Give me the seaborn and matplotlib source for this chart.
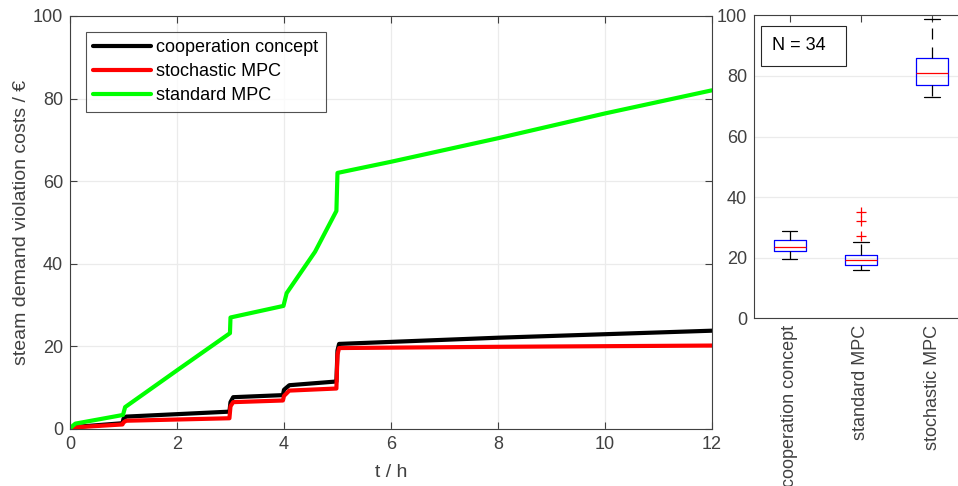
import matplotlib
matplotlib.use("Agg")
import matplotlib.pyplot as plt
from matplotlib.patches import Rectangle
import seaborn as sns
import pandas as pd

# cumulative steam demand violation costs over the horizon
t_coop = [0.0, 0.1, 0.98, 1.0, 1.05, 2.98, 3.0, 3.05, 3.98, 4.0, 4.1, 4.98, 5.0, 5.03, 8.0, 12.0]
cost_coop = [0.0, 0.5, 1.4, 2.5, 3.0, 4.2, 6.5, 7.7, 8.2, 9.5, 10.6, 11.5, 19.0, 20.6, 22.1, 23.8]

t_stoch = [0.0, 0.1, 0.98, 1.0, 1.05, 2.98, 3.0, 3.05, 3.98, 4.0, 4.1, 4.98, 5.0, 5.03, 8.0, 12.0]
cost_stoch = [0.0, 0.4, 1.1, 1.6, 2.0, 2.6, 5.5, 6.5, 6.9, 8.0, 9.3, 9.8, 18.0, 19.6, 19.9, 20.2]

t_std = [0.0, 0.1, 0.99, 1.03, 2.0, 2.99, 3.0, 3.99, 4.05, 4.58, 4.98, 5.0, 6.0, 8.0, 10.0, 12.0]
cost_std = [0.2, 1.3, 3.4, 5.3, 14.2, 23.2, 27.0, 29.8, 32.9, 42.9, 52.8, 62.0, 64.7, 70.4, 76.4, 82.0]

series_names = ["cooperation concept", "stochastic MPC", "standard MPC"]
series_colors = ["#000000", "#ff0000", "#00ff00"]

# total cost distribution over the scenarios
box_labels = ["cooperation concept", "standard MPC", "stochastic MPC"]
box_q1 = [22.3, 17.5, 76.9]
box_med = [23.7, 19.1, 80.8]
box_q3 = [25.7, 20.8, 86.0]
box_lo = [19.5, 16.1, 73.0]
box_hi = [28.9, 25.3, 98.8]
box_fliers = [[], [27.3, 32.0, 35.1], []]
n_scenarios = 34

sns.set_theme(style="white")
plt.rcParams["font.family"] = ["Liberation Sans", "DejaVu Sans"]
axis_col = "#404040"
plt.rcParams.update({
    "axes.edgecolor": axis_col,
    "axes.linewidth": 0.8,
    "xtick.color": axis_col,
    "ytick.color": axis_col,
    "xtick.labelcolor": axis_col,
    "ytick.labelcolor": axis_col,
    "axes.labelcolor": axis_col,
})
fs = 13

frames = []
for name, t, c in [(series_names[0], t_coop, cost_coop),
                   (series_names[1], t_stoch, cost_stoch),
                   (series_names[2], t_std, cost_std)]:
    frames.append(pd.DataFrame({"t": t, "cost": c, "series": name}))
df = pd.concat(frames, ignore_index=True)

fig = plt.figure(figsize=(9.58, 4.86), dpi=100)
ax = fig.add_axes([0.0731, 0.1173, 0.670, 0.8498])
ax2 = fig.add_axes([0.787, 0.345, 0.2234, 0.6235])

sns.lineplot(data=df, x="t", y="cost", hue="series", hue_order=series_names,
             palette=series_colors, estimator=None, sort=False, lw=3.0,
             ax=ax, legend=True)

ax.set_xlim(0, 12)
ax.set_ylim(0, 100)
ax.set_xticks(range(0, 13, 2))
ax.set_yticks(range(0, 101, 20))
ax.grid(True, color="#ebebeb", lw=0.9)
ax.set_axisbelow(True)
ax.tick_params(direction="in", length=5, width=0.8, labelsize=fs,
               top=True, right=True, bottom=True, left=True, pad=5)
ax.set_xlabel("t / h", fontsize=14, labelpad=8)
ax.set_ylabel("steam demand violation costs / €", fontsize=14, labelpad=2)
for s in ax.spines.values():
    s.set_visible(True)

leg = ax.legend(loc="upper left", bbox_to_anchor=(0.0245, 0.962), borderaxespad=0,
                fontsize=fs, handlelength=3.2, handletextpad=0.3,
                labelspacing=0.4, borderpad=0.4, frameon=True, fancybox=False)
leg.get_frame().set_edgecolor("#262626")
leg.get_frame().set_linewidth(0.8)
for txt in leg.get_texts():
    txt.set_color("#000000")
for h in leg.get_lines():
    h.set_linewidth(3.0)

stats = []
for i in range(3):
    stats.append({"label": box_labels[i], "q1": box_q1[i], "med": box_med[i],
                  "q3": box_q3[i], "whislo": box_lo[i], "whishi": box_hi[i],
                  "fliers": box_fliers[i]})
ax2.bxp(stats, positions=[1, 2, 3], widths=0.45, showfliers=True,
        boxprops=dict(color="#0000ff", lw=0.9),
        medianprops=dict(color="#ff0000", lw=0.9),
        whiskerprops=dict(color="#000000", lw=0.9, ls=(0, (8.8, 6.4))),
        capprops=dict(color="#000000", lw=0.9),
        flierprops=dict(marker="+", markeredgecolor="#ff0000", markersize=7,
                        markeredgewidth=0.9, ls="none"),
        capwidths=0.22)

ax2.set_xlim(0.5, 3.5)
ax2.set_ylim(0, 100)
ax2.set_yticks(range(0, 101, 20))
ax2.set_xticks([1, 2, 3])
ax2.set_xticklabels(box_labels, rotation=90, fontsize=fs)
ax2.yaxis.grid(True, color="#ebebeb", lw=0.9)
ax2.xaxis.grid(False)
ax2.set_axisbelow(True)
ax2.tick_params(direction="in", length=5, width=0.8, labelsize=fs,
                top=True, right=True, pad=5)
for s in ax2.spines.values():
    s.set_visible(True)

ax2.add_patch(Rectangle((0.031, 0.833), 0.397, 0.133, transform=ax2.transAxes,
                        fill=True, facecolor="white", edgecolor="#262626", lw=0.8,
                        zorder=5))
ax2.text(0.084, 0.899, f"N = {n_scenarios}", transform=ax2.transAxes,
         fontsize=fs, va="center", ha="left", color="#000000", zorder=6)

fig.savefig("out.png", dpi=100)
